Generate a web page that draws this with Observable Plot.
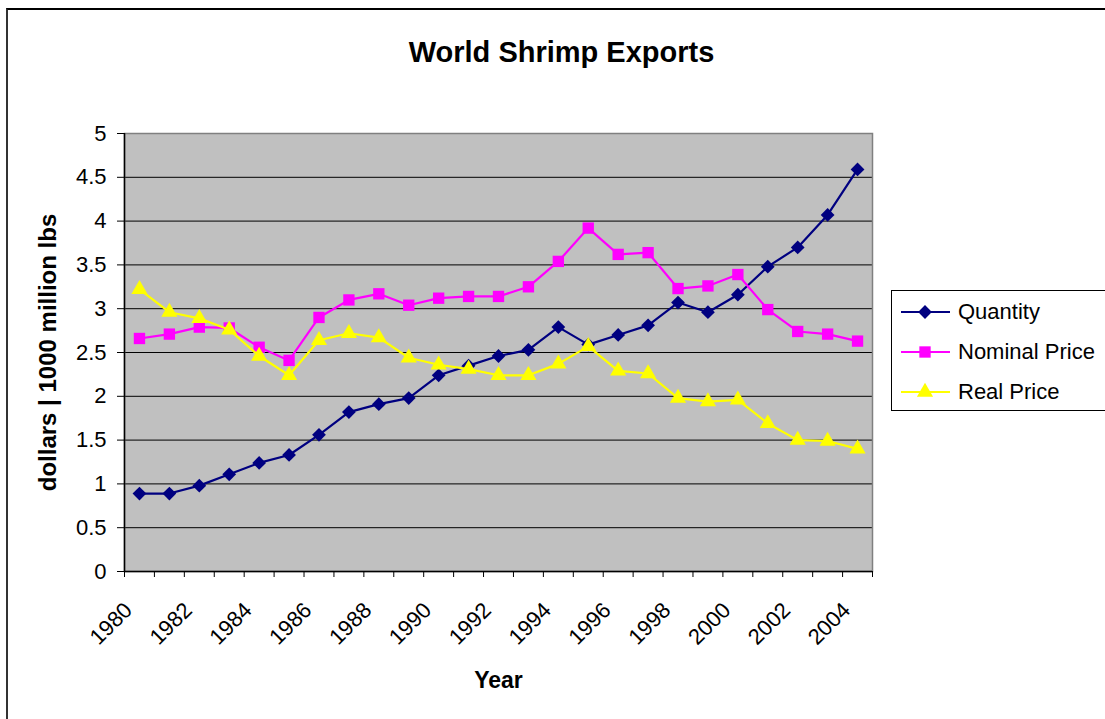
<!DOCTYPE html>
<html>
<head>
<meta charset="utf-8">
<script src="https://cdn.jsdelivr.net/npm/d3@7"></script>
<script src="https://cdn.jsdelivr.net/npm/@observablehq/plot@0.6"></script>
<style>
  html, body { margin: 0; padding: 0; background: #fff; overflow: hidden; }
  #wrap { position: relative; width: 1105px; height: 719px; overflow: hidden; font-family: "Liberation Sans", Arial, sans-serif; }
  #border { position: absolute; left: 6px; top: 8px; width: 1300px; height: 900px; border-left: 2px solid #333; border-top: 2px solid #000; }
  #chart { position: absolute; left: 0; top: 0; }
  #legend { position: absolute; left: 891px; top: 290px; width: 260px; height: 119px; border: 1px solid #000; background: #fff; }
  .row { position: absolute; left: 0; height: 24px; display: flex; align-items: center; }
  .row span { font-size: 22px; color: #000; margin-left: 6px; white-space: nowrap; }
</style>
</head>
<body>
<div id="wrap">
  <div id="border"></div>
  <div id="chart"></div>
  <div id="legend"></div>
</div>
<script>
// ---- data ----
const years = [1980, 1981, 1982, 1983, 1984, 1985, 1986, 1987, 1988, 1989, 1990, 1991, 1992,
               1993, 1994, 1995, 1996, 1997, 1998, 1999, 2000, 2001, 2002, 2003, 2004];
const quantity = [0.89, 0.89, 0.98, 1.11, 1.24, 1.33, 1.56, 1.82, 1.91, 1.98, 2.24, 2.35, 2.46,
                  2.53, 2.79, 2.59, 2.70, 2.81, 3.07, 2.96, 3.16, 3.48, 3.70, 4.07, 4.59];
const nominalPrice = [2.66, 2.71, 2.79, 2.78, 2.56, 2.41, 2.90, 3.10, 3.17, 3.04, 3.12, 3.14, 3.14,
                      3.25, 3.54, 3.92, 3.62, 3.64, 3.23, 3.26, 3.39, 2.99, 2.74, 2.71, 2.63];
const realPrice = [3.22, 2.96, 2.89, 2.76, 2.46, 2.24, 2.64, 2.72, 2.67, 2.44, 2.36, 2.31, 2.24,
                   2.24, 2.37, 2.57, 2.29, 2.26, 1.98, 1.94, 1.96, 1.69, 1.50, 1.49, 1.40];
const seriesNames = ["Quantity", "Nominal Price", "Real Price"];
const seriesColors = ["#000080", "#ff00ff", "#ffff00"];
const seriesSymbols = ["diamond2", "square", "triangle"];
const yTicks = [0, 0.5, 1, 1.5, 2, 2.5, 3, 3.5, 4, 4.5, 5];
const xTickLabels = [1980, 1982, 1984, 1986, 1988, 1990, 1992, 1994, 1996, 1998, 2000, 2002, 2004];
const titleText = "World Shrimp Exports";
const yTitle = "dollars | 1000 million lbs";
const xTitle = "Year";

// ---- derived tables ----
const seriesValues = [quantity, nominalPrice, realPrice];
const rows = seriesNames.map((name, i) => years.map((yr, j) => ({series: name, year: yr, value: seriesValues[i][j]})));
const boundaries = years.map(y => y - 0.5).concat([years[years.length - 1] + 0.5]);
const gridValues = yTicks.filter(v => v > 0 && v < 5);
const symbolR = {diamond2: 6.2, square: 6.4, triangle: 6.0};

const lineMarks = rows.flatMap((data, i) => [
  Plot.line(data, {x: "year", y: "value", stroke: seriesColors[i], strokeWidth: 2.2}),
  Plot.dot(data, {x: "year", y: "value", symbol: () => seriesSymbols[i], fill: seriesColors[i], stroke: "none", r: symbolR[seriesSymbols[i]]})
]);

const chart = Plot.plot({
  width: 1105,
  height: 719,
  marginLeft: 124,
  marginRight: 233,
  marginTop: 133,
  marginBottom: 148,
  x: {domain: [boundaries[0], boundaries[boundaries.length - 1]], axis: null},
  y: {domain: [0, 5], axis: null},
  symbol: {type: "identity"},
  style: {fontFamily: "'Liberation Sans', Arial, sans-serif", fontSize: "21px", color: "#000", background: "transparent", overflow: "visible"},
  marks: [
    Plot.frame({fill: "#c0c0c0", stroke: "none"}),
    Plot.ruleY(gridValues, {stroke: "#000", strokeWidth: 1}),
    Plot.frame({stroke: "#808080", strokeWidth: 1.5}),
    Plot.ruleY([0], {stroke: "#000", strokeWidth: 1.5}),
    Plot.ruleX([boundaries[0]], {stroke: "#000", strokeWidth: 1.5}),
    Plot.axisY({ticks: yTicks, tickSize: 7, tickPadding: 11, tickFormat: d => String(d), label: null, fontSize: 22}),
    Plot.axisX({ticks: boundaries, tickSize: 6, tickFormat: () => "", label: null}),
    Plot.text(xTickLabels, {x: d => d, text: d => String(d), frameAnchor: "bottom", rotate: -45, textAnchor: "end", lineAnchor: "bottom", dx: -6, dy: 40, fontSize: 22}),
    ...lineMarks,
    Plot.text([titleText], {text: d => d, frameAnchor: "top", lineAnchor: "bottom", dx: 63, dy: -72, fontSize: 29, fontWeight: "bold"}),
    Plot.text([yTitle], {text: d => d, frameAnchor: "left", rotate: -90, textAnchor: "middle", lineAnchor: "bottom", dx: -69, fontSize: 24, fontWeight: "bold"}),
    Plot.text([xTitle], {text: d => d, frameAnchor: "bottom", lineAnchor: "bottom", dy: 116, fontSize: 23, fontWeight: "bold"})
  ]
});
document.getElementById("chart").appendChild(chart);

// ---- legend ----
const legend = d3.select("#legend");
const d3Symbols = {diamond2: d3.symbolDiamond2, square: d3.symbolSquare, triangle: d3.symbolTriangle};
seriesNames.forEach((name, i) => {
  const row = legend.append("div").attr("class", "row").style("top", (9 + i * 40) + "px");
  const svg = row.append("svg").attr("width", 60).attr("height", 24).style("display", "block");
  svg.append("line").attr("x1", 9).attr("x2", 58).attr("y1", 12).attr("y2", 12)
    .attr("stroke", seriesColors[i]).attr("stroke-width", 2);
  const r = symbolR[seriesSymbols[i]];
  svg.append("path").attr("transform", "translate(33,12)")
    .attr("d", d3.symbol(d3Symbols[seriesSymbols[i]], Math.PI * r * r)())
    .attr("fill", seriesColors[i]);
  row.append("span").text(name);
});
</script>
</body>
</html>
